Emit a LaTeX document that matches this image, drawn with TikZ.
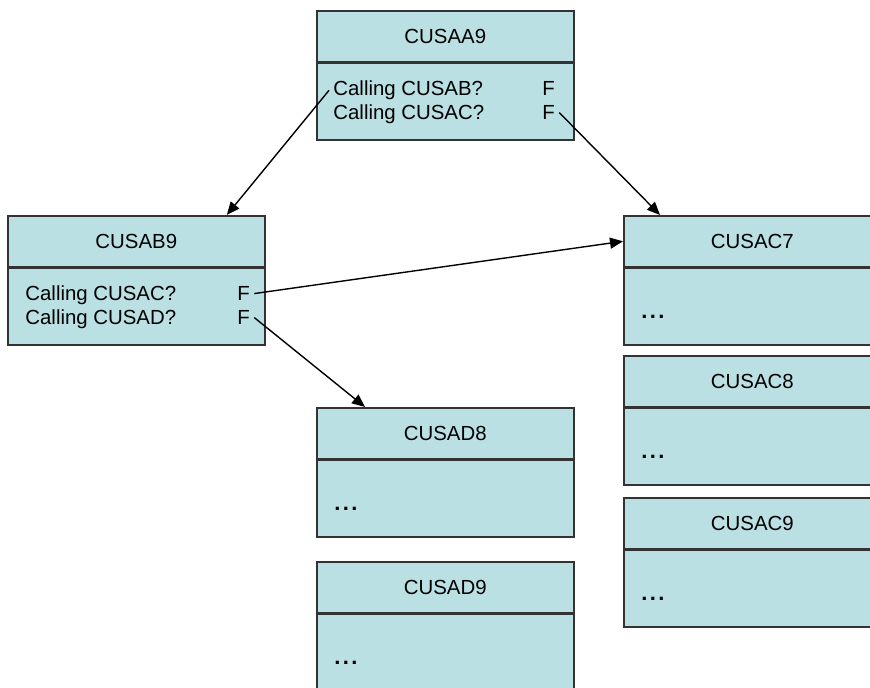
\documentclass[tikz,border=0pt]{standalone}
\usepackage{fontspec}
\setmainfont{Liberation Sans}
\usetikzlibrary{positioning,calc,arrows.meta}
\definecolor{boxfill}{RGB}{187,224,227}
\definecolor{edge}{RGB}{51,51,51}
\tikzset{
	hdr/.style={draw=edge, fill=boxfill, line width=0.8pt, minimum width=128.5pt, minimum height=25.5pt, inner sep=0pt, anchor=north west, font=\fontsize{10.2}{12}\selectfont},
	bodybox/.style={draw=edge, fill=boxfill, line width=0.8pt, minimum width=128.5pt, minimum height=38.25pt, inner sep=0pt, anchor=north west},
	txt/.style={inner ysep=0pt, inner xsep=2pt, anchor=base west, font=\fontsize{10.2}{12}\selectfont},
	dots/.style={txt, font=\fontsize{11}{12}\selectfont\bfseries},
	link/.style={-{Triangle[length=6.5pt,width=5.5pt]}, line width=0.7pt, draw=black}
}
\begin{document}
\begin{tikzpicture}[x=0.5pt, y=-0.5pt]
	\clip[use as bounding box] (0,0) rectangle (870,688);
	% caller on top
	\node[hdr] (aa9) at (316,10) {CUSAA9};
	\node[bodybox] (aa9b) at (aa9.south west) {};
	\node[txt] (aa9l1) at ($(aa9b.north west)+(13,33)$) {Calling CUSAB?};
	\node[txt] (aa9l2) at ($(aa9b.north west)+(13,57)$) {Calling CUSAC?};
	\node[txt] (aa9f1) at ($(aa9b.north west)+(222,33)$) {F};
	\node[txt] (aa9f2) at ($(aa9b.north west)+(222,57)$) {F};
	% second level
	\node[hdr] (ab9) at (7,215) {CUSAB9};
	\node[bodybox] (ab9b) at (ab9.south west) {};
	\node[txt] (ab9l1) at ($(ab9b.north west)+(14,33)$) {Calling CUSAC?};
	\node[txt] (ab9l2) at ($(ab9b.north west)+(14,57)$) {Calling CUSAD?};
	\node[txt] (ab9f1) at ($(ab9b.north west)+(226,33)$) {F};
	\node[txt] (ab9f2) at ($(ab9b.north west)+(226,57)$) {F};
	% called modules
	\foreach \n/\y in {7/215, 8/355, 9/497} {
		\node[hdr] (ac\n) at (623,\y) {CUSAC\n};
		\node[bodybox] (acb\n) at (ac\n.south west) {};
		\node[dots] (acd\n) at ($(acb\n.north west)+(14,51)$) {.\kern1.2pt.\kern1.2pt.};
	}
	\foreach \n/\y in {8/407, 9/561} {
		\node[hdr] (ad\n) at (316,\y) {CUSAD\n};
		\node[bodybox] (adb\n) at (ad\n.south west) {};
		\node[dots] (add\n) at ($(adb\n.north west)+(14,51)$) {.\kern1.2pt.\kern1.2pt.};
	}
	\draw[link] (aa9l1.west) -- ($(ab9.north west)!0.85!(ab9.north east)$);
	\draw[link] (aa9f2.east) -- ($(ac7.north west)+(37,0)$);
	\draw[link] (ab9f1.east) -- (ac7.west);
	\draw[link] (ab9f2.east) -- ($(ad8.north west)+(49,0)$);
\end{tikzpicture}
\end{document}
